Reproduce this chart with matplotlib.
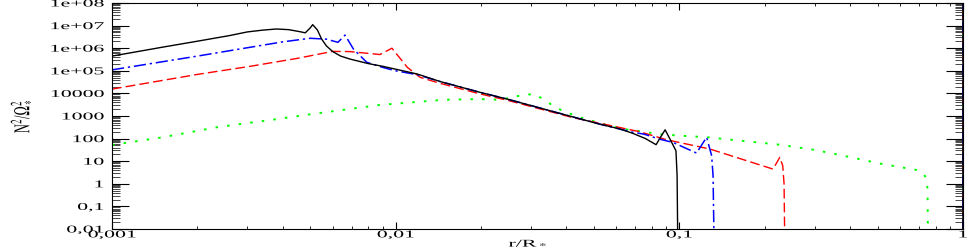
import numpy as np
import matplotlib
matplotlib.use("Agg")
import matplotlib.pyplot as plt
from matplotlib.ticker import FixedLocator, FixedFormatter, LogLocator, NullFormatter
from matplotlib.patheffects import AbstractPathEffect
from matplotlib.transforms import Affine2D

# ---------------- data ----------------
r_black = [0.001, 0.0015, 0.002, 0.0026, 0.0030, 0.0034, 0.0038, 0.0042, 0.0046,
           0.0048, 0.0050, 0.0051, 0.0053, 0.00548, 0.0057, 0.0060, 0.0064, 0.0069,
           0.0080, 0.0090, 0.0119, 0.0143, 0.0198, 0.0247, 0.0424, 0.0524, 0.0620,
           0.0686, 0.0760, 0.0828, 0.0860, 0.0891, 0.0915, 0.094, 0.0973, 0.0982,
           0.0988, 0.9999, 1.0]
v_black = [4.47e5, 1.10e6, 2.04e6, 3.63e6, 5.25e6, 6.31e6, 7.08e6, 6.61e6, 5.37e6,
           4.79e6, 7.94e6, 1.10e7, 6.31e6, 2.57e6, 1.26e6, 7.08e5, 4.47e5, 3.31e5,
           2.09e5, 1.58e5, 7.24e4, 3.39e4, 1.12e4, 5.62e3, 891, 437, 263,
           170, 100, 53.7, 120, 245, 130, 67.6, 28.8, 2.29,
           1e-3, 1e-3, 1e12]

r_blue = [0.001, 0.002, 0.00307, 0.0040, 0.0050, 0.0057, 0.00626, 0.00663, 0.0071,
          0.0079, 0.0090, 0.0100, 0.0119, 0.0143, 0.0198, 0.0247, 0.0424, 0.0524,
          0.0686, 0.075, 0.085, 0.095, 0.115, 0.1248, 0.130, 0.1315, 0.1327,
          0.9999, 1.0]
v_blue = [1.10e5, 4.47e5, 1.10e6, 1.91e6, 2.75e6, 2.51e6, 1.82e6, 3.80e6, 9.12e5,
          2.40e5, 1.41e5, 1.0e5, 6.76e4, 3.39e4, 1.12e4, 5.62e3, 891, 437,
          190, 158, 95, 67.6, 22.9, 115, 17.4, 2.29, 1e-3,
          1e-3, 1e12]

r_red = [0.001, 0.002, 0.00307, 0.0045, 0.0060, 0.0069, 0.0088, 0.0097, 0.0110,
         0.0122, 0.0143, 0.0198, 0.0247, 0.0424, 0.0524, 0.0726, 0.0902, 0.128,
         0.214, 0.226, 0.2315, 0.234, 0.2355, 0.9999, 1.0]
v_red = [1.55e4, 6.92e4, 1.58e5, 3.55e5, 7.24e5, 7.08e5, 5.25e5, 1.0e6, 1.41e5,
         5.13e4, 2.82e4, 9.55e3, 5.01e3, 832, 479, 200, 89, 34.7,
         4.47, 14.8, 6.31, 1.0, 1e-3, 1e-3, 1e12]

r_green = [0.001, 0.00148, 0.00234, 0.0038, 0.0051, 0.0088, 0.0149, 0.0198, 0.0228,
           0.0247, 0.0281, 0.0308, 0.0328, 0.0344, 0.0363, 0.0389, 0.0446, 0.0525,
           0.0616, 0.0855, 0.100, 0.125, 0.226, 0.300, 0.394, 0.517, 0.687,
           0.725, 0.745, 0.750, 0.753, 0.9999, 1.0]
v_green = [52.5, 110, 316, 724, 1230, 3090, 5250, 5620, 5250,
           6030, 8510, 9330, 6030, 4070, 2570, 1660, 871, 490,
           282, 158, 135, 115, 53.7, 31.6, 15.8, 7.59, 4.07,
           2.88, 1.62, 0.5, 1e-3, 1e-3, 1e12]

y_ticks = [1e-2, 1e-1, 1e0, 1e1, 1e2, 1e3, 1e4, 1e5, 1e6, 1e7, 1e8]
y_tick_labels = ['0,01', '0,1', '1', '10', '100', '1000', '10000',
                 '1e+05', '1e+06', '1e+07', '1e+08']
x_ticks = [0.001, 0.01, 0.1, 1.0]
x_tick_labels = ['0,001', '0,01', '0,1', '1']


# ---------------- horizontally stretched text (reference is stretched) ----------------
class HStretch(AbstractPathEffect):
    def __init__(self, sx, anchor='center'):
        super().__init__()
        self._sx = sx
        self._anchor = anchor

    def draw_path(self, renderer, gc, tpath, affine, rgbFace=None):
        bb = tpath.get_extents(affine)
        if self._anchor == 'right':
            cx = bb.x1
        elif self._anchor == 'left':
            cx = bb.x0
        else:
            cx = 0.5 * (bb.x0 + bb.x1)
        t = affine + Affine2D().translate(-cx, 0).scale(self._sx, 1.0).translate(cx, 0)
        renderer.draw_path(gc, tpath, t, rgbFace)


SX = 2.1
plt.rcParams['font.family'] = ['Liberation Serif', 'DejaVu Serif']
plt.rcParams['mathtext.fontset'] = 'stix'

fig = plt.figure(figsize=(9.70, 2.53), dpi=100)
ax = fig.add_axes([112 / 970, 1 - 230 / 253, (963 - 112) / 970, (230 - 4) / 253])

ax.plot(r_green, v_green, color=(0, 1, 0), lw=1.4, dashes=(1.3, 4.7))
ax.plot(r_red, v_red, color=(1, 0, 0), lw=1.0, dashes=(7, 3))
ax.plot(r_blue, v_blue, color=(0, 0, 1), lw=1.1, dashes=(8, 2.5, 1.5, 2.5))
ax.plot(r_black, v_black, color='black', lw=1.0)

ax.set_xscale('log')
ax.set_yscale('log')
ax.set_xlim(0.001, 1.0)
ax.set_ylim(1e-2, 1e8)

ax.yaxis.set_major_locator(FixedLocator(y_ticks))
ax.yaxis.set_major_formatter(FixedFormatter(y_tick_labels))
ax.yaxis.set_minor_locator(LogLocator(base=10, subs=np.arange(2, 10), numticks=100))
ax.yaxis.set_minor_formatter(NullFormatter())
ax.xaxis.set_major_locator(FixedLocator(x_ticks))
ax.xaxis.set_major_formatter(FixedFormatter(x_tick_labels))
ax.xaxis.set_minor_locator(LogLocator(base=10, subs=np.arange(2, 10), numticks=100))
ax.xaxis.set_minor_formatter(NullFormatter())

ax.tick_params(axis='both', which='both', direction='in', top=True, right=True,
               labelsize=7.5)
ax.tick_params(axis='y', which='major', length=12, width=0.8, pad=6)
ax.tick_params(axis='y', which='minor', length=6, width=0.5)
ax.tick_params(axis='x', which='major', length=5, width=0.8, pad=1.0)
ax.tick_params(axis='x', which='minor', length=2.5, width=0.6)

for sp in ax.spines.values():
    sp.set_linewidth(0.8)

for lab in ax.get_yticklabels():
    lab.set_path_effects([HStretch(SX, 'right')])
for lab in ax.get_xticklabels():
    lab.set_path_effects([HStretch(SX, 'center')])

ax.set_xlabel(r'r/R$_*$', fontsize=7.5)
ax.xaxis.set_label_coords(0.489, -0.066)
ax.xaxis.label.set_va('center')
ax.xaxis.label.set_path_effects([HStretch(SX, 'center')])

ax.set_ylabel(r'N$^2$/$\Omega_*^2$', fontsize=9)
ax.yaxis.set_label_coords(-0.106, 0.5)
ax.yaxis.label.set_va('center')
ax.yaxis.label.set_path_effects([HStretch(1.8, 'center')])

fig.savefig('out.png', dpi=100)
